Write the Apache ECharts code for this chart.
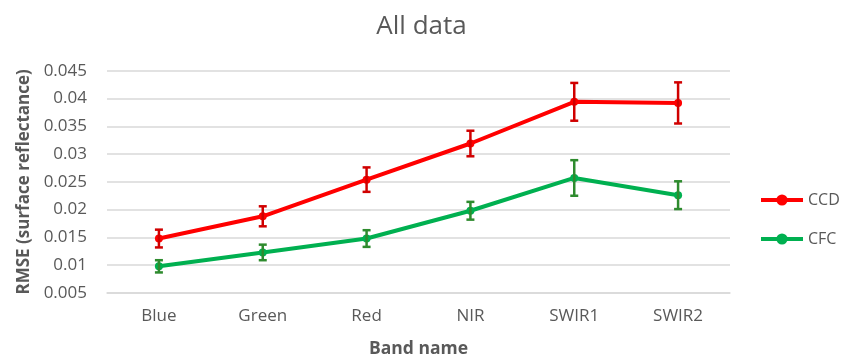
<!DOCTYPE html>
<html>
<head>
<meta charset="utf-8">
<script src="https://cdn.jsdelivr.net/npm/echarts@6/dist/echarts.min.js"></script>
<style>
  html, body { margin: 0; padding: 0; background: #fff; }
  #chart { width: 843px; height: 363px; }
</style>
</head>
<body>
<div id="chart"></div>
<script>
// Band names along the x axis
const bands = ['Blue', 'Green', 'Red', 'NIR', 'SWIR1', 'SWIR2'];

// RMSE per band and its error (±)
const ccdRmse = [0.0148, 0.0188, 0.0254, 0.0319, 0.0394, 0.0392];
const ccdErr  = [0.0016, 0.0018, 0.0022, 0.0023, 0.0034, 0.0037];
const cfcRmse = [0.0098, 0.0123, 0.0148, 0.0198, 0.0257, 0.0226];
const cfcErr  = [0.0011, 0.0014, 0.0015, 0.0016, 0.0032, 0.0025];

const yMin = 0.005, yMax = 0.045, yStep = 0.005;

const font = 'Open Sans, Liberation Sans, sans-serif';
const textColor = '#595959';

function errorData(vals, errs) {
  return vals.map((v, i) => [i, v - errs[i], v + errs[i]]);
}

function errorBars(name, vals, errs, color) {
  return {
    type: 'custom',
    name: name + ' error',
    data: errorData(vals, errs),
    z: 5,
    silent: true,
    renderItem: function (params, api) {
      const lo = api.coord([api.value(0), api.value(1)]);
      const hi = api.coord([api.value(0), api.value(2)]);
      const cap = 4;
      const style = { stroke: color, lineWidth: 2.5 };
      return {
        type: 'group',
        children: [
          { type: 'line', shape: { x1: lo[0], y1: lo[1], x2: hi[0], y2: hi[1] }, style: style },
          { type: 'line', shape: { x1: lo[0] - cap, y1: lo[1], x2: lo[0] + cap, y2: lo[1] }, style: style },
          { type: 'line', shape: { x1: hi[0] - cap, y1: hi[1], x2: hi[0] + cap, y2: hi[1] }, style: style }
        ]
      };
    }
  };
}

function lineSeries(name, vals, color) {
  return {
    type: 'line',
    name: name,
    data: vals,
    symbol: 'circle',
    symbolSize: 8,
    z: 3,
    lineStyle: { color: color, width: 4 },
    itemStyle: { color: color }
  };
}

const chart = echarts.init(document.getElementById('chart'));
chart.setOption({
  animation: false,
  backgroundColor: '#ffffff',
  title: {
    text: 'All data',
    left: 'center',
    top: 9,
    textStyle: { fontFamily: font, fontSize: 26, fontWeight: 'normal', color: textColor }
  },
  legend: {
    orient: 'vertical',
    left: 759,
    top: 192,
    padding: 0,
    itemWidth: 42,
    itemHeight: 14,
    itemGap: 23,
    data: ['CCD', 'CFC'],
    lineStyle: { width: 4 },
    textStyle: { fontFamily: font, fontSize: 16, color: textColor }
  },
  grid: { left: 107, right: 113, top: 70.7, bottom: 68.7, containLabel: false },
  xAxis: {
    type: 'category',
    data: bands,
    boundaryGap: true,
    name: 'Band name',
    nameLocation: 'middle',
    nameGap: 47,
    nameTextStyle: { fontFamily: font, fontSize: 17.5, fontWeight: 'bold', color: textColor },
    axisLine: { lineStyle: { color: '#D9D9D9', width: 1.5 } },
    axisTick: { show: false },
    axisLabel: { fontFamily: font, fontSize: 17, color: textColor, margin: 15 }
  },
  yAxis: {
    type: 'value',
    min: yMin,
    max: yMax,
    interval: yStep,
    name: 'RMSE (surface reflectance)',
    nameLocation: 'middle',
    nameGap: 68,
    nameTextStyle: { fontFamily: font, fontSize: 17, fontWeight: 'bold', color: textColor },
    axisLine: { show: false },
    axisTick: { show: false },
    splitLine: { lineStyle: { color: '#D9D9D9', width: 1.5 } },
    axisLabel: {
      fontFamily: font, fontSize: 17, color: textColor, margin: 20,
      formatter: v => String(parseFloat(v.toFixed(3)))
    }
  },
  series: [
    lineSeries('CCD', ccdRmse, '#FF0000'),
    lineSeries('CFC', cfcRmse, '#00B050'),
    errorBars('CCD', ccdRmse, ccdErr, '#D00000'),
    errorBars('CFC', cfcRmse, cfcErr, '#2E8B2E')
  ]
});
</script>
</body>
</html>
